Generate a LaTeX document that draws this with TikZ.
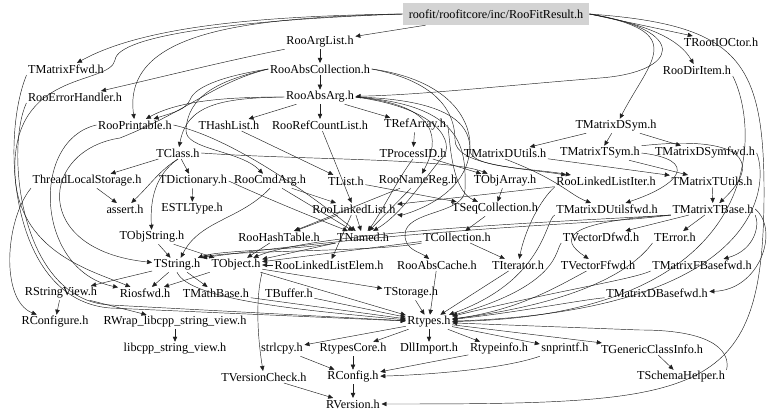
\documentclass[tikz,border=0pt]{standalone}
\usepackage{fontspec}
\setmainfont{Liberation Serif}
\usetikzlibrary{arrows.meta}
\definecolor{RootGray}{HTML}{D3D3D3}
\definecolor{EdgeGray}{HTML}{202020}
\tikzset{
  hfile/.style={font=\fontsize{12.2}{14}\selectfont, inner sep=1.5pt},
  rootfile/.style={hfile, fill=RootGray, minimum height=22pt, inner xsep=6pt},
  arr/.style={-{Triangle[length=5pt,width=4.4pt]}, draw=EdgeGray, line width=0.45pt}
}
\begin{document}
\begin{tikzpicture}[x=1pt,y=-1pt]
\useasboundingbox (0,0) rectangle (768,419);
% files, one row per rank
\node[rootfile] (root) at (496,14) {roofit/roofitcore/inc/RooFitResult.h};
\node[hfile] (arglist) at (320,42) {RooArgList.h};
\node[hfile] (ioctor) at (721,42) {TRootIOCtor.h};
\node[hfile] (mffwd) at (66,69) {TMatrixFfwd.h};
\node[hfile] (abscoll) at (320,69) {RooAbsCollection.h};
\node[hfile] (diritem) at (697,70) {RooDirItem.h};
\node[hfile] (errh) at (75,97) {RooErrorHandler.h};
\node[hfile] (absarg) at (320,97) {RooAbsArg.h};
\node[hfile] (printable) at (135,125) {RooPrintable.h};
\node[hfile] (hashlist) at (229,125) {THashList.h};
\node[hfile] (refcount) at (320,125) {RooRefCountList.h};
\node[hfile] (refarray) at (415,125) {TRefArray.h};
\node[hfile] (mdsym) at (616,126) {TMatrixDSym.h};
\node[hfile] (tclass) at (178,153) {TClass.h};
\node[hfile] (processid) at (413,153) {TProcessID.h};
\node[hfile] (mdutils) at (505,153) {TMatrixDUtils.h};
\node[hfile] (mtsym) at (600,153) {TMatrixTSym.h};
\node[hfile] (mdsymfwd) at (705,153) {TMatrixDSymfwd.h};
\node[hfile] (tls) at (87,181) {ThreadLocalStorage.h};
\node[hfile] (dict) at (193,181) {TDictionary.h};
\node[hfile] (cmdarg) at (270,181) {RooCmdArg.h};
\node[hfile] (tlist) at (346,181) {TList.h};
\node[hfile] (namereg) at (418,181) {RooNameReg.h};
\node[hfile] (objarray) at (505,181) {TObjArray.h};
\node[hfile] (llistiter) at (606,181) {RooLinkedListIter.h};
\node[hfile] (mtutils) at (712,181) {TMatrixTUtils.h};
\node[hfile] (assert) at (125,209) {assert.h};
\node[hfile] (estl) at (192,209) {ESTLType.h};
\node[hfile] (llist) at (354,209) {RooLinkedList.h};
\node[hfile] (seqcoll) at (495,209) {TSeqCollection.h};
\node[hfile] (mdutilsfwd) at (607,209) {TMatrixDUtilsfwd.h};
\node[hfile] (mtbase) at (713,209) {TMatrixTBase.h};
\node[hfile] (objstring) at (152,237) {TObjString.h};
\node[hfile] (hashtable) at (279,237) {RooHashTable.h};
\node[hfile] (named) at (363,237) {TNamed.h};
\node[hfile] (collection) at (457,237) {TCollection.h};
\node[hfile] (vdfwd) at (601,237) {TVectorDfwd.h};
\node[hfile] (error) at (675,237) {TError.h};
\node[hfile] (string) at (177,265) {TString.h};
\node[hfile] (object) at (236,265) {TObject.h};
\node[hfile] (llelem) at (329,265) {RooLinkedListElem.h};
\node[hfile] (abscache) at (437,265) {RooAbsCache.h};
\node[hfile] (iterator) at (518,265) {TIterator.h};
\node[hfile] (vffwd) at (598,265) {TVectorFfwd.h};
\node[hfile] (mfbasefwd) at (702,265) {TMatrixFBasefwd.h};
\node[hfile] (strview) at (61,293) {RStringView.h};
\node[hfile] (iosfwd) at (145,293) {Riosfwd.h};
\node[hfile] (mathbase) at (216,293) {TMathBase.h};
\node[hfile] (buffer) at (289,293) {TBuffer.h};
\node[hfile] (storage) at (411,293) {TStorage.h};
\node[hfile] (mdbasefwd) at (657,293) {TMatrixDBasefwd.h};
\node[hfile] (rconfigure) at (55,322) {RConfigure.h};
\node[hfile] (rwrap) at (175,322) {RWrap\_libcpp\_string\_view.h};
\node[hfile] (rtypes) at (429,322) {Rtypes.h};
\node[hfile] (libcpp) at (175,349) {libcpp\_string\_view.h};
\node[hfile] (strlcpy) at (282,349) {strlcpy.h};
\node[hfile] (rtcore) at (353,349) {RtypesCore.h};
\node[hfile] (dllimport) at (429,349) {DllImport.h};
\node[hfile] (rtinfo) at (499,349) {Rtypeinfo.h};
\node[hfile] (snprintf) at (565,349) {snprintf.h};
\node[hfile] (gci) at (652,349) {TGenericClassInfo.h};
\node[hfile] (vcheck) at (264,377) {TVersionCheck.h};
\node[hfile] (rconfig) at (353,377) {RConfig.h};
\node[hfile] (schema) at (681,377) {TSchemaHelper.h};
\node[hfile] (rversion) at (353,404) {RVersion.h};

% RooFitResult.h
\draw[arr] (root) -- (arglist);
\draw[arr] (root.east) -- (ioctor);
\draw[arr] (root.east) .. controls (650,25) and (680,40) .. (diritem);
\draw[arr] (root.east) .. controls (690,32) and (650,60) .. (mdsym);
\draw[arr] (root.east) .. controls (690,30) and (680,72) .. (600,78) .. controls (500,86) and (420,95) .. (absarg);
\draw[arr] (root.west) .. controls (250,16) and (140,28) .. (mffwd);
\draw[arr] (root.west) .. controls (250,18) and (122,30) .. (printable);
\draw[arr] (root.west) .. controls (240,20) and (118,35) .. (115,60) .. controls (110,85) and (20,70) .. (15,160) .. controls (10,250) and (90,270) .. (iosfwd);
\draw[arr] (root.east) .. controls (740,25) and (765,60) .. (764,200) .. controls (762,400) and (700,404) .. (rversion);
% RooFit collections
\draw[arr] (arglist) -- (abscoll);
\draw[arr] (arglist.south west) .. controls (230,60) and (170,75) .. (errh);
\draw[arr] (abscoll) -- (absarg);
\draw[arr] (abscoll.west) .. controls (230,75) and (195,85) .. (190,100) .. controls (185,110) and (175,112) .. (printable);
\draw[arr] (abscoll.east) .. controls (420,78) and (455,100) .. (455,140) .. controls (455,165) and (520,168) .. (llistiter);
\draw[arr] (abscoll.west) .. controls (220,80) and (188,95) .. (186,130) .. controls (185,150) and (240,150) .. (cmdarg);
\draw[arr] (abscoll.west) .. controls (215,82) and (190,110) .. (120,138) .. controls (40,150) and (30,250) .. (string);
\draw[arr] (abscoll.east) .. controls (450,80) and (470,120) .. (470,145) .. controls (470,200) and (400,215) .. (llist);
% RooAbsArg.h
\draw[arr] (absarg.west) .. controls (230,97) and (180,100) .. (printable);
\draw[arr] (absarg) -- (hashlist);
\draw[arr] (absarg) -- (refcount);
\draw[arr] (absarg) -- (refarray);
\draw[arr] (absarg.west) .. controls (220,98) and (187,105) .. (tclass);
\draw[arr] (absarg.east) .. controls (440,105) and (440,140) .. (namereg);
\draw[arr] (absarg.east) .. controls (460,100) and (470,130) .. (470,150) .. controls (470,168) and (530,168) .. (llistiter);
\draw[arr] (absarg.east) .. controls (450,110) and (455,150) .. (440,160) .. controls (420,185) and (400,215) .. (named);
\draw[arr] (absarg.east) .. controls (465,105) and (466,150) .. (465,190) .. controls (464,215) and (405,210) .. (405,235) .. controls (405,250) and (420,252) .. (abscache);
\draw[arr] (errh.south west) .. controls (5,150) and (20,300) .. (110,305) -- (rtypes);
\draw[arr] (mffwd.south west) .. controls (0,140) and (10,300) .. (110,308) -- (rtypes);
\draw[arr] (printable.west) .. controls (30,140) and (35,270) .. (iosfwd);
\draw[arr] (printable.east) .. controls (240,140) and (330,210) .. (named);
\draw[arr] (hashlist) -- (tlist);
\draw[arr] (refcount) -- (llist);
\draw[arr] (refarray) -- (processid);
\draw[arr] (refarray.east) .. controls (450,135) and (450,190) .. (seqcoll);
\draw[arr] (processid) -- (objarray);
\draw[arr] (processid.south) .. controls (400,175) and (380,215) .. (named);
% TClass.h
\draw[arr] (tclass) -- (tls);
\draw[arr] (tclass) -- (dict);
\draw[arr] (tclass.south) .. controls (160,170) and (150,185) .. (assert);
\draw[arr] (tclass.south) .. controls (155,175) and (150,200) .. (objstring);
\draw[arr] (tclass.east) .. controls (300,160) and (450,158) .. (objarray);
\draw[arr] (tls) -- (assert);
\draw[arr] (tls.south west) .. controls (5,220) and (0,300) .. (rconfigure);
\draw[arr] (dict) -- (estl);
\draw[arr] (dict.east) .. controls (270,200) and (320,220) .. (named);
\draw[arr] (cmdarg) -- (named);
\draw[arr] (cmdarg) -- (llist);
\draw[arr] (cmdarg.south) .. controls (240,220) and (200,220) .. (string);
\draw[arr] (tlist) -- (seqcoll);
\draw[arr] (namereg) -- (named);
\draw[arr] (namereg) -- (hashtable);
\draw[arr] (objarray) -- (seqcoll);
\draw[arr] (llistiter) -- (llist);
\draw[arr] (llistiter.south west) .. controls (540,200) and (525,230) .. (iterator);
\draw[arr] (llist) -- (hashtable);
\draw[arr] (llist) -- (llelem);
\draw[arr] (llist) -- (named);
\draw[arr] (seqcoll) -- (collection);
% TMatrix
\draw[arr] (mdsym) -- (mdutils);
\draw[arr] (mdsym) -- (mtsym);
\draw[arr] (mdsym) -- (mdsymfwd);
\draw[arr] (mtsym) -- (mtutils);
\draw[arr] (mtsym.east) .. controls (700,160) and (680,185) .. (mdutilsfwd);
\draw[arr] (mtsym.north east) .. controls (740,135) and (765,160) .. (mtbase);
\draw[arr] (mdutils) -- (mtutils);
\draw[arr] (mdutils.south) .. controls (560,180) and (570,195) .. (mdutilsfwd);
\draw[arr] (mtutils) -- (mtbase);
\draw[arr] (mtbase) -- (error);
\draw[arr] (mtbase) -- (vdfwd);
\draw[arr] (mtbase.south west) .. controls (560,222) and (560,240) .. (vffwd);
\draw[arr] (mtbase.south east) .. controls (760,225) and (755,250) .. (mfbasefwd);
\draw[arr] (mtbase.east) .. controls (780,230) and (760,290) .. (mdbasefwd);
\draw[arr] (mtbase.south west) .. controls (600,220) and (320,230) .. (object);
\draw[arr] (mtbase.south west) .. controls (600,225) and (450,225) .. (string.north east);
% core
\draw[arr] (objstring) -- (string);
\draw[arr] (objstring) -- (object);
\draw[arr] (hashtable) -- (object);
\draw[arr] (named) -- (object);
\draw[arr] (named.south west) .. controls (300,250) and (220,250) .. (string);
\draw[arr] (collection) -- (object);
\draw[arr] (collection) -- (iterator);
\draw[arr] (collection.south west) .. controls (380,252) and (230,250) .. (string);
\draw[arr] (llelem) -- (object);
\draw[arr] (string) -- (iosfwd);
\draw[arr] (string) -- (mathbase);
\draw[arr] (string) -- (strview);
\draw[arr] (string.south) .. controls (190,300) and (300,310) .. (rtypes);
\draw[arr] (object) -- (storage);
\draw[arr] (object) -- (rtypes);
\draw[arr] (object.south east) .. controls (255,300) and (258,340) .. (vcheck);
\draw[arr] (object.south west) -- (iosfwd);
\draw[arr] (mathbase) -- (rtypes);
\draw[arr] (buffer) -- (rtypes);
\draw[arr] (storage) -- (rtypes);
\draw[arr] (abscache) -- (rtypes);
\draw[arr] (iterator) -- (rtypes);
\draw[arr] (error.south west) .. controls (640,260) and (600,300) .. (rtypes);
\draw[arr] (vdfwd.south west) .. controls (555,250) and (560,285) .. (rtypes);
\draw[arr] (vffwd) .. controls (560,285) and (520,310) .. (rtypes);
\draw[arr] (mfbasefwd.south west) .. controls (630,280) and (560,290) .. (rtypes);
\draw[arr] (mdbasefwd) .. controls (580,300) and (520,312) .. (rtypes);
\draw[arr] (mdutilsfwd.south west) .. controls (545,220) and (545,280) .. (rtypes);
\draw[arr] (mdsymfwd.east) .. controls (768,180) and (770,310) .. (rtypes);
\draw[arr] (diritem.south east) .. controls (760,130) and (770,315) .. (rtypes);
\draw[arr] (strview) -- (rconfigure);
\draw[arr] (strview) -- (rwrap);
\draw[arr] (rwrap) -- (libcpp);
% Rtypes.h
\draw[arr] (rtypes) -- (strlcpy);
\draw[arr] (rtypes) -- (rtcore);
\draw[arr] (rtypes) -- (dllimport);
\draw[arr] (rtypes) -- (rtinfo);
\draw[arr] (rtypes) -- (snprintf);
\draw[arr] (rtypes) -- (gci);
\draw[arr] (strlcpy) -- (rconfig);
\draw[arr] (rtcore) -- (rconfig);
\draw[arr] (rtinfo) -- (rconfig);
\draw[arr] (snprintf.south west) .. controls (500,370) and (420,375) .. (rconfig);
\draw[arr] (gci) -- (schema);
\draw[arr] (schema.north east) .. controls (730,355) and (720,330) .. (640,330) -- (rtypes);
\draw[arr] (vcheck) -- (rversion);
\draw[arr] (rconfig) -- (rversion);
\end{tikzpicture}
\end{document}
